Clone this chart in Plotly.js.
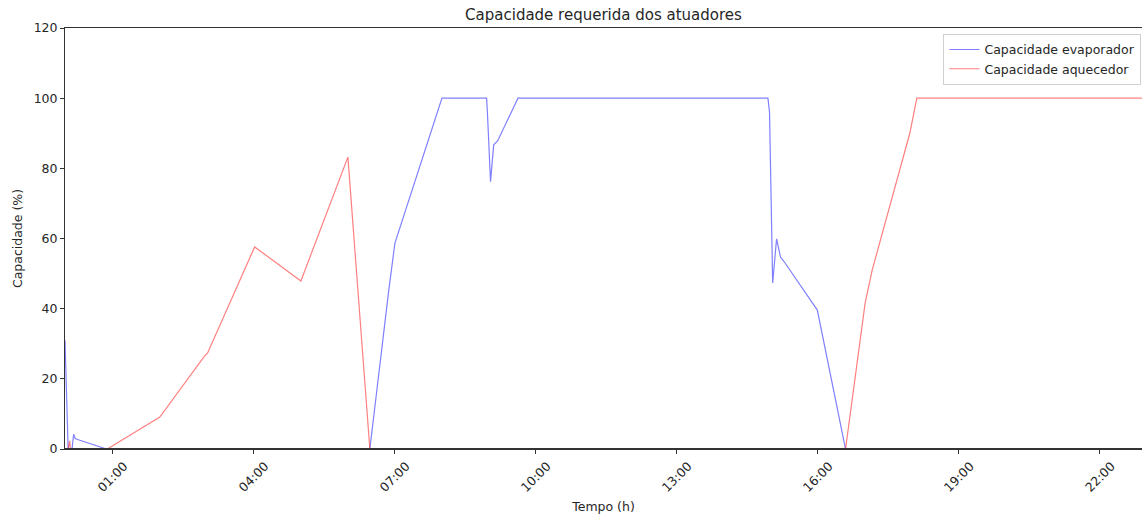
<!DOCTYPE html>
<html>
<head>
<meta charset="utf-8">
<script src="https://cdn.plot.ly/plotly-3.0.1.min.js"></script>
<style>
  html, body { margin: 0; padding: 0; background: #fff; }
  #chart { width: 1142px; height: 516px; }
</style>
</head>
<body>
<div id="chart"></div>
<script>
// Required actuator capacity over one day (hours:minutes), in percent.
const day = '2021-01-01 ';

const evapTimes = ['00:00', '00:04', '00:09', '00:11', '00:13', '00:16', '00:53',
  '06:29', '06:53', '07:01', '08:01', '08:58', '08:59', '09:03', '09:07', '09:12', '09:38',
  '14:57', '14:59', '15:03', '15:08', '15:13', '15:18', '16:00', '16:36', '23:59'];
const evapValues = [31, 0, 0, 4.2, 3.0, 2.7, 0,
  0, 45, 58.7, 100, 100, 96, 76.2, 86.7, 87.8, 100,
  100, 96, 47.3, 59.9, 54.7, 53.3, 39.6, 0, 0];

const heatTimes = ['00:00', '00:04', '00:06', '00:07', '00:54', '02:01', '02:58', '03:02',
  '04:02', '04:23', '05:01', '06:01', '06:29', '16:36', '17:01', '17:10', '17:58', '18:07', '23:59'];
const heatValues = [0, 0, 2.3, 0, 0, 9.1, 26.5, 27.4,
  57.6, 54.2, 47.9, 83.2, 0, 0, 41.6, 51, 90, 100, 100];

const xStart = '00:00';
const xEnd = '22:54:18';
const yTicks = [0, 20, 40, 60, 80, 100, 120];

const seriesNames = ['Capacidade evaporador', 'Capacidade aquecedor'];
const titleText = 'Capacidade requerida dos atuadores';
const xTitle = 'Tempo (h)';
const yTitle = 'Capacidade (%)';

const font = 'DejaVu Sans, sans-serif';
const ink = '#262626';
const axisInk = '#333';

const traces = [
  {
    x: evapTimes.map(t => day + t),
    y: evapValues,
    name: seriesNames[0],
    mode: 'lines',
    line: { color: 'rgba(0,0,255,0.5)', width: 1.2 }
  },
  {
    x: heatTimes.map(t => day + t),
    y: heatValues,
    name: seriesNames[1],
    mode: 'lines',
    line: { color: 'rgba(255,0,0,0.5)', width: 1.2 }
  }
];

const axisCommon = {
  ticks: 'outside',
  ticklen: 4,
  tickcolor: axisInk,
  showgrid: false,
  zeroline: false,
  showline: true,
  linecolor: axisInk,
  linewidth: 1,
  mirror: true
};

const layout = {
  width: 1142,
  height: 516,
  margin: { l: 65, r: 0, t: 28, b: 67 },
  paper_bgcolor: '#fff',
  plot_bgcolor: '#fff',
  font: { family: font, size: 12.5, color: ink },
  title: {
    text: titleText,
    font: { family: font, size: 15, color: ink },
    x: 0.5, xref: 'paper',
    y: 1 - 15 / 516, yref: 'container', yanchor: 'middle'
  },
  showlegend: true,
  legend: {
    x: 0.9995, xanchor: 'right',
    y: 0.986, yanchor: 'top',
    bgcolor: '#fff',
    bordercolor: '#d0d0d0',
    borderwidth: 1,
    font: { family: font, size: 12.5, color: ink },
    tracegroupgap: 0
  },
  // bottom spine drawn over the traces so values at zero sit under it
  shapes: [{
    type: 'line', xref: 'paper', yref: 'paper',
    x0: 0, x1: 1, y0: 0, y1: 0,
    line: { color: axisInk, width: 2 },
    layer: 'above'
  }],
  xaxis: Object.assign({}, axisCommon, {
    type: 'date',
    range: [day + xStart, day + xEnd],
    tick0: day + '01:00',
    dtick: 3 * 3600 * 1000,
    tickformat: '%H:%M',
    tickangle: -45,
    ticklabelshift: 12,
    title: { text: xTitle, font: { family: font, size: 12.5, color: ink }, standoff: 8 }
  }),
  yaxis: Object.assign({}, axisCommon, {
    range: [0, 120],
    tickvals: yTicks,
    title: { text: yTitle, font: { family: font, size: 12.5, color: ink }, standoff: 8 }
  })
};

Plotly.newPlot('chart', traces, layout, { displayModeBar: false, staticPlot: true });
</script>
</body>
</html>
